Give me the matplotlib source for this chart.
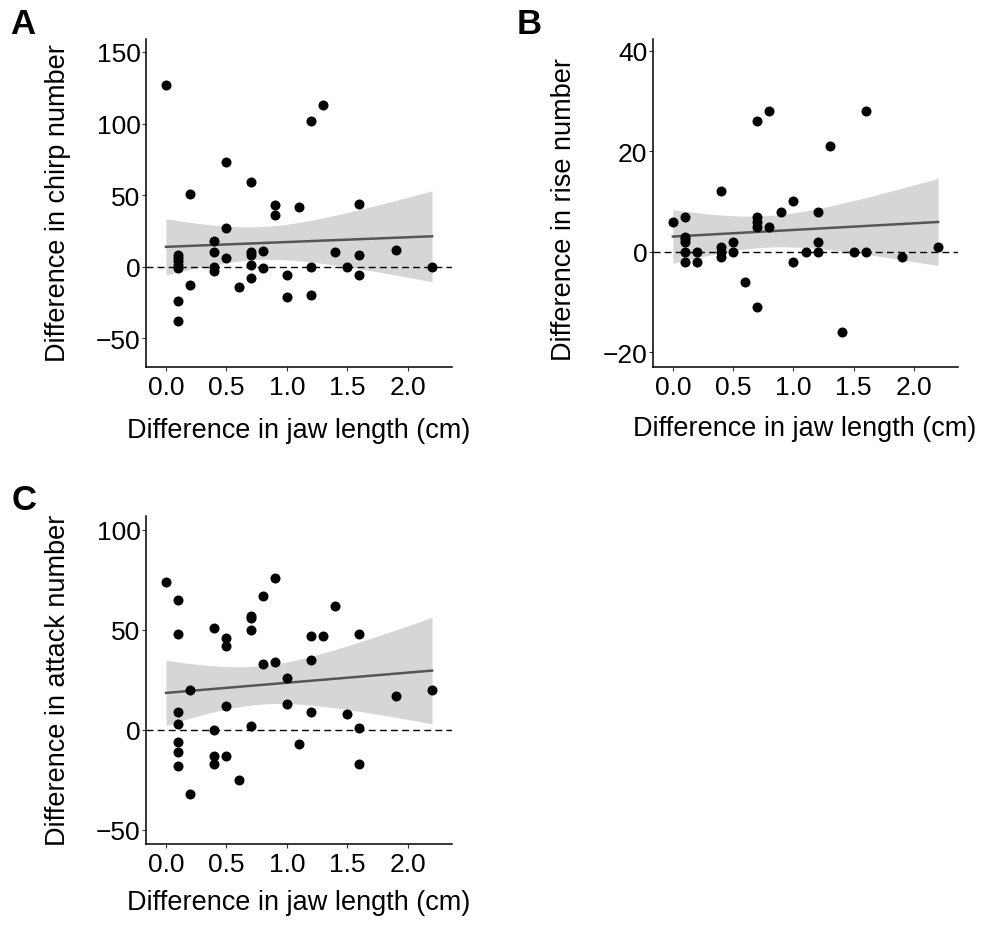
import matplotlib
matplotlib.use("Agg")
import matplotlib.pyplot as plt
import numpy as np

plt.rcParams['font.family'] = ['Liberation Sans', 'DejaVu Sans']

# difference in jaw length (cm) and response per panel
jaw_a = [0.0, 0.1, 0.1, 0.1, 0.1, 0.1, 0.1, 0.1, 0.2, 0.2, 0.4, 0.4, 0.4, 0.4,
         0.5, 0.5, 0.5, 0.6, 0.7, 0.7, 0.7, 0.7, 0.7, 0.8, 0.8, 0.9, 0.9,
         1.0, 1.0, 1.1, 1.2, 1.2, 1.2, 1.3, 1.4, 1.5, 1.6, 1.6, 1.6, 1.9, 2.2]
chirp = [127, 8, 6, 4, 1, -1, -24, -38, 51, -13, 18, 10, 0, -3,
         73, 27, 6, -14, 59, 10, 8, 1, -8, 11, -1, 43, 36,
         -6, -21, 42, 102, 0, -20, 113, 10, 0, 44, 8, -6, 12, 0]

jaw_b = [0.0, 0.1, 0.1, 0.1, 0.1, 0.1, 0.1, 0.2, 0.2, 0.4, 0.4, 0.4, 0.4,
         0.5, 0.5, 0.6, 0.7, 0.7, 0.7, 0.7, 0.7, 0.8, 0.8, 0.9,
         1.0, 1.0, 1.1, 1.2, 1.2, 1.2, 1.3, 1.4, 1.5, 1.6, 1.6, 1.9, 2.2]
rise = [6, 7, 3, 2.5, 2, 0, -2, 0, -2, 12, 1, 0, -1,
        2, 0, -6, 26, 7, 6, 5, -11, 28, 5, 8,
        10, -2, 0, 8, 2, 0, 21, -16, 0, 28, 0, -1, 1]

jaw_c = [0.0, 0.1, 0.1, 0.1, 0.1, 0.1, 0.1, 0.1, 0.2, 0.2, 0.4, 0.4, 0.4, 0.4,
         0.5, 0.5, 0.5, 0.5, 0.6, 0.7, 0.7, 0.7, 0.7, 0.8, 0.8, 0.9, 0.9,
         1.0, 1.0, 1.1, 1.2, 1.2, 1.2, 1.3, 1.4, 1.5, 1.6, 1.6, 1.6, 1.9, 2.2]
attack = [74, 65, 48, 9, 3, -6, -11, -18, 20, -32, 51, 0, -13, -17,
          46, 42, 12, -13, -25, 57, 56, 50, 2, 67, 33, 76, 34,
          26, 13, -7, 47, 35, 9, 47, 62, 8, 48, 1, -17, 17, 20]

x_ticks = [0.0, 0.5, 1.0, 1.5, 2.0]

W, H = 984, 928
fig = plt.figure(figsize=(W / 100, H / 100), dpi=100)


def px_axes(left, top, right, bottom):
    return fig.add_axes([left / W, 1 - bottom / H, (right - left) / W, (bottom - top) / H])


def panel(ax, x, y, ylim, yticks):
    x = np.asarray(x, float)
    y = np.asarray(y, float)
    # linear fit with 95% confidence band
    b, a = np.polyfit(x, y, 1)
    n = len(x)
    resid = y - (a + b * x)
    s = np.sqrt(np.sum(resid ** 2) / (n - 2))
    sxx = np.sum((x - x.mean()) ** 2)
    xs = np.linspace(x.min(), x.max(), 100)
    fit = a + b * xs
    se = s * np.sqrt(1 / n + (xs - x.mean()) ** 2 / sxx)
    t = 2.02
    ax.fill_between(xs, fit - t * se, fit + t * se, color='#d6d6d6', lw=0, zorder=1)
    ax.axhline(0, color='black', lw=1.0, ls=(0, (5, 3)), zorder=2)
    ax.plot(xs, fit, color='#555555', lw=1.8, zorder=3)
    ax.scatter(x, y, s=52, color='black', lw=0, zorder=4)

    ax.set_xlim(-0.165, 2.365)
    ax.set_ylim(*ylim)
    ax.set_xticks(x_ticks)
    ax.set_xticklabels([f'{v:.1f}' for v in x_ticks])
    ax.set_yticks(yticks)
    ax.set_yticklabels([str(v).replace('-', '\u2212') for v in yticks])
    for sp in ['top', 'right']:
        ax.spines[sp].set_visible(False)
    for sp in ['left', 'bottom']:
        ax.spines[sp].set_linewidth(1.1)
        ax.spines[sp].set_color('black')
    ax.tick_params(axis='both', length=3, width=0.8, color='#333333',
                   labelsize=19, labelcolor='black')
    ax.tick_params(axis='y', pad=1)
    ax.tick_params(axis='x', pad=3)


ax_a = px_axes(146, 40, 452, 368)
panel(ax_a, jaw_a, chirp, (-70, 159), [-50, 0, 50, 100, 150])
ax_b = px_axes(653, 40, 958, 368)
panel(ax_b, jaw_b, rise, (-22.9, 42.3), [-20, 0, 20, 40])
ax_c = px_axes(146, 517, 452, 845)
panel(ax_c, jaw_c, attack, (-57, 107), [-50, 0, 50, 100])

xlab = 'Difference in jaw length (cm)'
fig.text(299 / W, 1 - 418 / H, xlab, ha='center', va='top', fontsize=19.5)
fig.text(805 / W, 1 - 416 / H, xlab, ha='center', va='top', fontsize=19.5)
fig.text(299 / W, 1 - 890 / H, xlab, ha='center', va='top', fontsize=19.5)

fig.text(58 / W, 1 - 203 / H, 'Difference in chirp number', rotation=90,
         ha='center', va='center', fontsize=19.5)
fig.text(564 / W, 1 - 210 / H, 'Difference in rise number', rotation=90,
         ha='center', va='center', fontsize=19.5)
fig.text(58 / W, 1 - 680 / H, 'Difference in attack number', rotation=90,
         ha='center', va='center', fontsize=19.5)

for lbl, xp, yp in [('A', 10, 8), ('B', 517, 8), ('C', 12, 484)]:
    fig.text(xp / W, 1 - yp / H, lbl, ha='left', va='top', fontsize=25,
             fontweight='bold')

fig.savefig('out.png', dpi=100)
